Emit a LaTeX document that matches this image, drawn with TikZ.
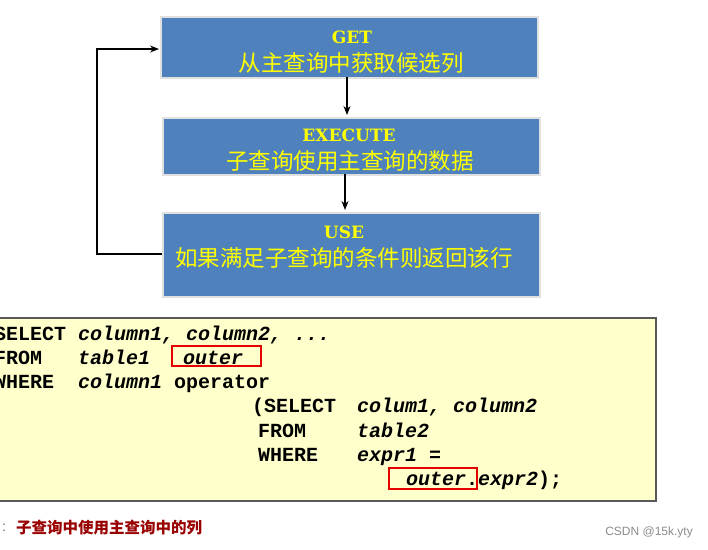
\documentclass[tikz,border=0pt]{standalone}
\usepackage{fontspec}
\setmainfont{Liberation Serif}
\setsansfont{Liberation Sans}
\setmonofont{Liberation Mono}
\newfontfamily\cjk{Noto Sans CJK SC}
\newfontfamily\headfont{DejaVu Serif}
\usetikzlibrary{arrows.meta}
\definecolor{boxblue}{HTML}{4F81BD}
\definecolor{txtyellow}{HTML}{FFFF00}
\definecolor{codebg}{HTML}{FFFFCC}
\definecolor{darkred}{HTML}{990000}
\begin{document}
\begin{tikzpicture}[x=1pt,y=-1pt,
  flowbox/.style={draw=black!12, line width=1.5pt, fill=boxblue, inner sep=0pt, anchor=north west},
  head/.style={text=txtyellow, font=\fontsize{17}{20}\headfont\bfseries, inner sep=0pt},
  cn/.style={text=txtyellow, font=\fontsize{22.5}{24}\cjk, inner sep=0pt},
  flow/.style={-{Stealth[length=9pt,width=7pt]}, line width=1.2pt},
  code/.style={font=\fontsize{20}{24}\ttfamily\bfseries, inner sep=0pt, anchor=base west},
  redbox/.style={draw=red!90!black, line width=1.3pt}
]
\useasboundingbox (0,0) rectangle (708,549);
\fill[white] (0,0) rectangle (708,549);

% flow boxes
\node[flowbox, minimum width=377pt, minimum height=61pt] (get) at (160,16) {};
\node[flowbox, minimum width=377pt, minimum height=57pt] (exe) at (162,117) {};
\node[flowbox, minimum width=377pt, minimum height=84pt] (use) at (162,212) {};

\node[head] (t1) at (352,37) {GET};
\node[cn] (c1) at (351,63) {从主查询中获取候选列};
\node[head] (t2) at (349,135) {EXECUTE};
\node[cn] (c2) at (350,161) {子查询使用主查询的数据};
\node[head] (t3) at (344,232) {USE};
\node[cn] (c3) at (344,258) {如果满足子查询的条件则返回该行};

\coordinate (g1) at (347,77);
\coordinate (g2) at (347,115);
\coordinate (e1) at (345,174);
\coordinate (e2) at (345,210);
\draw[flow] (g1) -- (g2);
\draw[flow] (e1) -- (e2);
\coordinate (u1) at (162,254);
\coordinate (gl) at (159,49);
\draw[flow] (u1) -- (97,254) -- (97,49) -- (gl);

% code box
\draw[fill=codebg, draw=black!65, line width=1.3pt] (-10,318) rectangle (656,501);

\node[code] (l1a) at (-6,340) {SELECT};
\node[code] (l1b) at (78,340) {\itshape column1, column2, ...};
\node[code] (l2a) at (-6,364) {FROM};
\node[code] (l2b) at (78,364) {\itshape table1};
\node[code] (l2c) at (183,364) {\itshape outer};
\node[code] (l3a) at (-6,388.5) {WHERE};
\node[code] (l3b) at (78,388.5) {\itshape column1};
\node[code] (l3c) at (174,388.5) {operator};
\node[code] (l4a) at (252,412.5) {(SELECT};
\node[code] (l4b) at (357,412.5) {\itshape colum1, column2};
\node[code] (l5a) at (258,437) {FROM};
\node[code] (l5b) at (357,437) {\itshape table2};
\node[code] (l6a) at (258,461) {WHERE};
\node[code] (l6b) at (357,461) {\textit{expr1} =};
\node[code] (l7a) at (406,485.5) {\textit{outer}.\textit{expr2});};

\draw[redbox] (172,346) rectangle (261,366);
\draw[redbox] (389,468) rectangle (477,489);

% bottom
\node[text=black!60, font=\fontsize{14}{16}\sffamily, inner sep=0pt] (colon) at (4,528) {:};
\node[text=darkred, font=\fontsize{15.5}{18}\cjk\bfseries, inner sep=0pt, anchor=west] (note) at (16,528) {子查询中使用主查询中的列};
\node[text=black!45, font=\fontsize{12}{14}\sffamily, inner sep=0pt, anchor=east] (wm) at (693,532) {CSDN @15k.yty};
\end{tikzpicture}
\end{document}
